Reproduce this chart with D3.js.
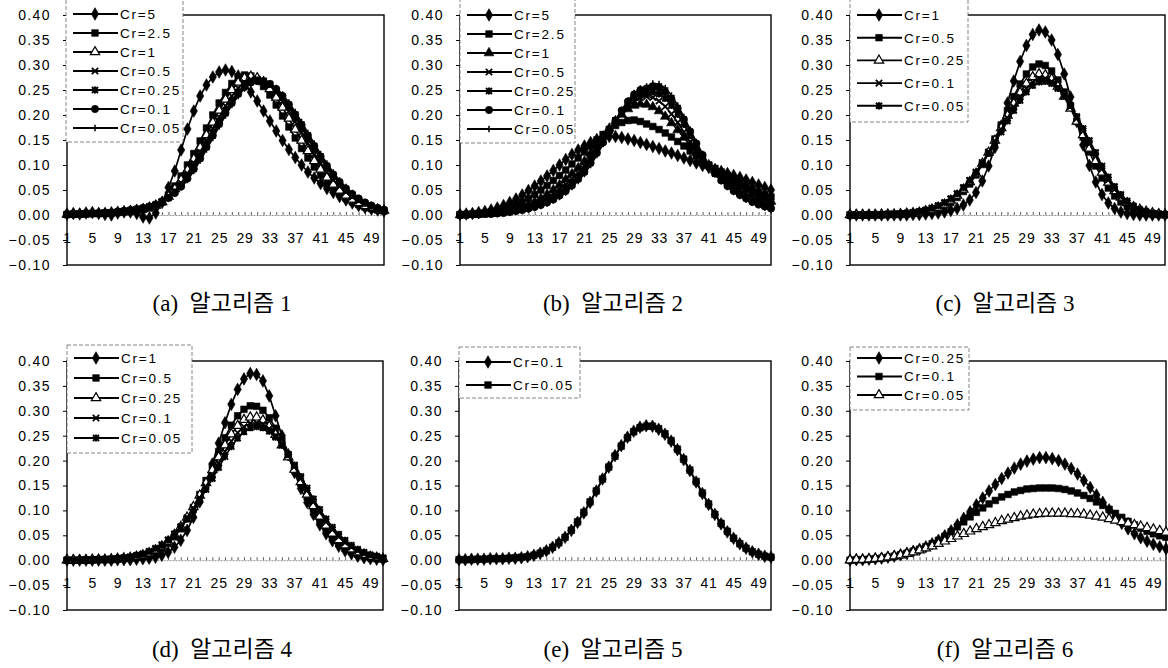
<!DOCTYPE html>
<html><head><meta charset="utf-8">
<script src="https://cdn.jsdelivr.net/npm/d3@7"></script>
<style>
html,body{margin:0;padding:0;background:#fff;}
svg{display:block;}
</style></head><body>
<svg id="chart" width="1168" height="668"></svg>
<script>
const categories = [1,2,3,4,5,6,7,8,9,10,11,12,13,14,15,16,17,18,19,20,21,22,23,24,25,26,27,28,29,30,31,32,33,34,35,36,37,38,39,40,41,42,43,44,45,46,47,48,49,50,51];
const xTickLabels = [1,5,9,13,17,21,25,29,33,37,41,45,49];
const yTicks = [-0.10,-0.05,0.00,0.05,0.10,0.15,0.20,0.25,0.30,0.35,0.40];

// (a) 알고리즘 1
const a_cr5 = [0.002,0.003,0.002,0.004,0.005,0.003,0.001,0.000,0.004,0.006,
0.006,0.003,-0.004,-0.006,0.004,0.025,0.055,0.088,0.130,0.172,
0.208,0.238,0.260,0.276,0.286,0.290,0.287,0.278,0.264,0.246,
0.228,0.208,0.188,0.168,0.149,0.131,0.115,0.100,0.086,0.074,
0.063,0.053,0.045,0.037,0.030,0.024,0.019,0.015,0.012,0.010,0.008];
const a_cr2_5 = [0.001,0.002,0.002,0.003,0.003,0.003,0.004,0.004,0.005,0.006,
0.007,0.009,0.011,0.014,0.018,0.026,0.040,0.058,0.078,0.100,
0.123,0.148,0.174,0.200,0.224,0.245,0.263,0.275,0.280,0.278,
0.270,0.257,0.240,0.220,0.198,0.176,0.154,0.133,0.114,0.096,
0.080,0.066,0.054,0.043,0.034,0.027,0.021,0.016,0.013,0.010,0.008];
const a_cr1 = [0.001,0.001,0.002,0.002,0.003,0.003,0.004,0.005,0.006,0.007,
0.008,0.010,0.012,0.015,0.019,0.026,0.037,0.052,0.070,0.090,
0.112,0.135,0.160,0.185,0.209,0.231,0.250,0.265,0.274,0.277,
0.274,0.266,0.252,0.235,0.215,0.193,0.171,0.149,0.128,0.108,
0.091,0.075,0.061,0.049,0.039,0.031,0.024,0.018,0.014,0.011,0.009];
const a_cr0_5 = [0.001,0.001,0.002,0.002,0.003,0.003,0.004,0.005,0.006,0.007,
0.009,0.011,0.013,0.016,0.020,0.026,0.035,0.048,0.064,0.083,
0.104,0.126,0.149,0.173,0.196,0.218,0.238,0.254,0.265,0.271,
0.272,0.268,0.259,0.245,0.228,0.208,0.187,0.165,0.143,0.122,
0.103,0.086,0.070,0.057,0.046,0.036,0.028,0.022,0.016,0.012,0.009];
const a_cr0_25 = [0.001,0.001,0.002,0.002,0.003,0.003,0.004,0.005,0.006,0.008,
0.009,0.011,0.014,0.017,0.021,0.027,0.035,0.046,0.060,0.077,
0.097,0.118,0.141,0.164,0.187,0.209,0.229,0.246,0.259,0.267,
0.270,0.268,0.262,0.250,0.235,0.216,0.196,0.175,0.153,0.132,
0.112,0.094,0.077,0.063,0.050,0.040,0.031,0.024,0.018,0.013,0.010];
const a_cr0_1 = [0.001,0.001,0.002,0.002,0.003,0.004,0.004,0.005,0.007,0.008,
0.010,0.012,0.014,0.017,0.021,0.027,0.034,0.044,0.057,0.073,
0.092,0.113,0.136,0.159,0.182,0.204,0.224,0.242,0.256,0.265,
0.268,0.267,0.262,0.252,0.238,0.221,0.201,0.180,0.159,0.138,
0.117,0.098,0.081,0.066,0.053,0.042,0.033,0.025,0.019,0.014,0.010];
const a_cr0_05 = [0.001,0.001,0.002,0.002,0.003,0.004,0.005,0.006,0.007,0.008,
0.010,0.012,0.015,0.018,0.022,0.027,0.034,0.043,0.055,0.070,
0.088,0.109,0.131,0.154,0.177,0.199,0.220,0.238,0.253,0.263,
0.267,0.267,0.263,0.254,0.241,0.225,0.206,0.186,0.164,0.143,
0.122,0.103,0.085,0.069,0.056,0.044,0.034,0.026,0.020,0.015,0.011];

// (b) 알고리즘 2
const b_cr5 = [0.001,0.002,0.003,0.005,0.007,0.010,0.014,0.019,0.025,0.032,
0.040,0.049,0.058,0.068,0.078,0.089,0.100,0.111,0.121,0.130,
0.138,0.145,0.151,0.155,0.157,0.157,0.155,0.152,0.149,0.145,
0.141,0.137,0.133,0.128,0.124,0.119,0.114,0.109,0.104,0.099,
0.095,0.091,0.087,0.083,0.079,0.075,0.070,0.065,0.060,0.055,0.050];
const b_cr2_5 = [0.001,0.001,0.002,0.003,0.004,0.006,0.008,0.011,0.015,0.020,
0.026,0.033,0.041,0.050,0.059,0.069,0.079,0.090,0.102,0.114,
0.126,0.138,0.150,0.161,0.171,0.179,0.185,0.189,0.190,0.187,
0.182,0.177,0.171,0.164,0.156,0.147,0.138,0.128,0.118,0.109,
0.100,0.093,0.086,0.079,0.072,0.065,0.058,0.052,0.046,0.041,0.036];
const b_cr1 = [0.000,0.001,0.001,0.002,0.003,0.004,0.005,0.007,0.009,0.012,
0.015,0.020,0.026,0.033,0.041,0.050,0.060,0.071,0.082,0.094,
0.107,0.123,0.140,0.157,0.173,0.188,0.201,0.212,0.219,0.222,
0.221,0.216,0.208,0.197,0.184,0.170,0.155,0.139,0.124,0.111,
0.100,0.090,0.081,0.072,0.064,0.057,0.050,0.043,0.037,0.032,0.027];
const b_cr0_5 = [0.000,0.001,0.001,0.002,0.002,0.003,0.004,0.006,0.008,0.010,
0.012,0.016,0.021,0.027,0.034,0.042,0.051,0.061,0.072,0.084,
0.098,0.115,0.133,0.152,0.171,0.189,0.205,0.219,0.229,0.235,
0.237,0.235,0.228,0.217,0.202,0.185,0.166,0.146,0.127,0.112,
0.100,0.087,0.076,0.066,0.057,0.049,0.042,0.035,0.029,0.024,0.020];
const b_cr0_25 = [0.000,0.000,0.001,0.001,0.002,0.003,0.004,0.005,0.007,0.009,
0.011,0.014,0.018,0.023,0.029,0.036,0.045,0.055,0.066,0.078,
0.092,0.110,0.129,0.149,0.169,0.189,0.207,0.222,0.234,0.241,
0.244,0.246,0.242,0.233,0.219,0.201,0.181,0.159,0.137,0.116,
0.097,0.083,0.071,0.060,0.051,0.043,0.036,0.029,0.024,0.019,0.016];
const b_cr0_1 = [0.000,0.000,0.001,0.001,0.002,0.002,0.003,0.004,0.006,0.008,
0.010,0.013,0.016,0.020,0.025,0.031,0.039,0.048,0.059,0.072,
0.086,0.104,0.124,0.145,0.167,0.189,0.209,0.227,0.241,0.250,
0.253,0.257,0.255,0.246,0.232,0.213,0.191,0.167,0.143,0.120,
0.099,0.083,0.069,0.058,0.048,0.040,0.033,0.026,0.021,0.017,0.013];
const b_cr0_05 = [0.000,0.000,0.001,0.001,0.001,0.002,0.003,0.004,0.005,0.007,
0.009,0.011,0.014,0.018,0.023,0.029,0.036,0.045,0.056,0.068,
0.082,0.100,0.120,0.142,0.165,0.188,0.210,0.229,0.244,0.253,
0.257,0.263,0.262,0.254,0.239,0.219,0.196,0.171,0.146,0.122,
0.100,0.082,0.068,0.056,0.046,0.038,0.031,0.025,0.020,0.015,0.012];

// (c) 알고리즘 3
const c_cr1 = [0.000,0.000,0.000,0.000,0.000,0.000,0.000,0.000,0.000,0.000,
0.001,0.001,0.002,0.003,0.004,0.006,0.009,0.013,0.020,0.030,
0.045,0.068,0.098,0.135,0.178,0.224,0.268,0.307,0.339,0.361,
0.370,0.366,0.350,0.321,0.282,0.236,0.187,0.140,0.099,0.066,
0.041,0.024,0.013,0.006,0.003,0.001,0.000,0.000,0.000,0.000,0.000];
const c_cr0_5 = [0.000,0.000,0.000,0.000,0.000,0.000,0.001,0.001,0.001,0.002,
0.003,0.004,0.006,0.009,0.013,0.018,0.025,0.035,0.047,0.062,
0.080,0.101,0.125,0.152,0.180,0.209,0.237,0.262,0.282,0.296,
0.302,0.299,0.288,0.270,0.246,0.218,0.187,0.156,0.126,0.098,
0.074,0.054,0.038,0.026,0.017,0.010,0.006,0.003,0.002,0.001,0.000];
const c_cr0_25 = [0.000,0.000,0.000,0.000,0.000,0.001,0.001,0.001,0.002,0.003,
0.004,0.005,0.008,0.011,0.015,0.021,0.029,0.039,0.051,0.066,
0.083,0.103,0.125,0.149,0.174,0.199,0.223,0.245,0.263,0.276,
0.282,0.280,0.272,0.257,0.237,0.213,0.187,0.160,0.133,0.108,
0.085,0.065,0.048,0.035,0.024,0.016,0.011,0.007,0.004,0.002,0.001];
const c_cr0_1 = [0.000,0.000,0.000,0.000,0.001,0.001,0.001,0.002,0.002,0.003,
0.005,0.007,0.009,0.013,0.018,0.024,0.032,0.042,0.054,0.069,
0.086,0.105,0.126,0.148,0.171,0.194,0.216,0.236,0.253,0.266,
0.273,0.273,0.267,0.255,0.238,0.217,0.193,0.168,0.143,0.118,
0.092,0.070,0.051,0.036,0.024,0.015,0.009,0.005,0.003,0.002,0.001];
const c_cr0_05 = [0.000,0.000,0.000,0.001,0.001,0.001,0.002,0.002,0.003,0.004,
0.005,0.007,0.010,0.014,0.019,0.025,0.033,0.043,0.055,0.069,
0.085,0.103,0.123,0.144,0.166,0.188,0.209,0.229,0.246,0.259,
0.266,0.267,0.263,0.253,0.238,0.219,0.197,0.173,0.149,0.125,
0.098,0.076,0.057,0.041,0.028,0.018,0.011,0.007,0.004,0.002,0.001];

// (d) 알고리즘 4
const d_cr1 = [0.000,0.000,0.000,0.000,0.000,0.000,0.000,0.000,0.001,0.001,
0.001,0.002,0.003,0.004,0.006,0.010,0.016,0.026,0.040,0.060,
0.086,0.117,0.153,0.193,0.235,0.276,0.313,0.343,0.364,0.375,
0.373,0.360,0.330,0.290,0.250,0.212,0.176,0.144,0.116,0.092,
0.071,0.053,0.039,0.028,0.019,0.013,0.008,0.005,0.003,0.002,0.001];
const d_cr0_5 = [0.000,0.000,0.000,0.000,0.000,0.001,0.001,0.001,0.002,0.003,
0.004,0.006,0.008,0.012,0.017,0.024,0.034,0.047,0.063,0.083,
0.106,0.132,0.160,0.189,0.218,0.246,0.271,0.290,0.303,0.310,
0.309,0.301,0.286,0.265,0.240,0.212,0.183,0.154,0.127,0.102,
0.080,0.061,0.046,0.034,0.024,0.017,0.012,0.008,0.005,0.003,0.002];
const d_cr0_25 = [0.000,0.000,0.000,0.000,0.001,0.001,0.001,0.002,0.003,0.004,
0.005,0.007,0.010,0.014,0.020,0.028,0.038,0.051,0.067,0.086,
0.107,0.130,0.155,0.181,0.207,0.231,0.253,0.270,0.282,0.287,
0.287,0.281,0.269,0.252,0.231,0.207,0.182,0.157,0.132,0.109,
0.088,0.070,0.054,0.041,0.030,0.022,0.016,0.011,0.007,0.005,0.003];
const d_cr0_1 = [0.000,0.000,0.000,0.001,0.001,0.001,0.002,0.002,0.003,0.005,
0.006,0.009,0.012,0.016,0.022,0.030,0.040,0.052,0.067,0.085,
0.104,0.125,0.148,0.171,0.195,0.218,0.239,0.256,0.268,0.275,
0.276,0.273,0.264,0.250,0.232,0.211,0.188,0.164,0.140,0.117,
0.096,0.077,0.061,0.047,0.035,0.026,0.019,0.013,0.009,0.006,0.004];
const d_cr0_05 = [0.000,0.000,0.001,0.001,0.001,0.002,0.002,0.003,0.004,0.005,
0.007,0.010,0.013,0.018,0.024,0.031,0.041,0.053,0.067,0.083,
0.101,0.121,0.142,0.164,0.186,0.208,0.228,0.245,0.258,0.266,
0.268,0.266,0.259,0.247,0.231,0.212,0.191,0.168,0.145,0.123,
0.102,0.083,0.066,0.052,0.040,0.030,0.022,0.016,0.011,0.008,0.005];

// (e) 알고리즘 5
const e_cr0_1 = [0.001,0.001,0.002,0.002,0.002,0.003,0.003,0.003,0.004,0.004,
0.005,0.007,0.010,0.014,0.019,0.026,0.035,0.046,0.060,0.076,
0.095,0.116,0.139,0.163,0.187,0.210,0.230,0.247,0.259,0.267,
0.270,0.269,0.263,0.253,0.239,0.222,0.202,0.180,0.157,0.134,
0.112,0.092,0.073,0.057,0.044,0.033,0.024,0.017,0.012,0.008,0.006];
const e_cr0_05 = [0.001,0.001,0.001,0.002,0.002,0.003,0.003,0.003,0.004,0.005,
0.006,0.007,0.010,0.014,0.019,0.026,0.035,0.046,0.060,0.077,
0.096,0.117,0.139,0.163,0.187,0.209,0.229,0.246,0.258,0.266,
0.269,0.269,0.264,0.254,0.240,0.223,0.203,0.181,0.158,0.135,
0.113,0.092,0.074,0.058,0.044,0.033,0.024,0.017,0.012,0.008,0.006];

// (f) 알고리즘 6
const f_cr0_25 = [0.000,0.001,0.001,0.002,0.003,0.004,0.006,0.008,0.011,0.014,
0.018,0.022,0.027,0.033,0.040,0.049,0.059,0.071,0.084,0.097,
0.111,0.125,0.139,0.152,0.164,0.175,0.185,0.193,0.199,0.203,
0.206,0.206,0.204,0.200,0.193,0.184,0.173,0.160,0.146,0.131,
0.116,0.101,0.087,0.074,0.063,0.053,0.045,0.038,0.032,0.027,0.023];
const f_cr0_1 = [0.000,0.001,0.001,0.002,0.003,0.004,0.006,0.008,0.011,0.014,
0.018,0.022,0.027,0.033,0.040,0.048,0.057,0.067,0.077,0.087,
0.096,0.105,0.113,0.120,0.127,0.132,0.137,0.140,0.143,0.144,
0.145,0.145,0.145,0.144,0.142,0.139,0.135,0.130,0.124,0.117,
0.110,0.102,0.094,0.086,0.078,0.071,0.064,0.058,0.053,0.049,0.046];
const f_cr0_05 = [0.000,0.001,0.001,0.002,0.003,0.004,0.006,0.008,0.010,0.013,
0.016,0.020,0.024,0.028,0.033,0.038,0.043,0.048,0.053,0.058,
0.063,0.067,0.071,0.075,0.079,0.082,0.085,0.088,0.090,0.092,
0.093,0.094,0.094,0.094,0.094,0.093,0.093,0.092,0.090,0.088,
0.086,0.083,0.080,0.077,0.074,0.071,0.068,0.065,0.062,0.059,0.056];

const panels = [
  {key:'a', caption:'(a)  알고리즘 1', series:[
    {name:'Cr=5', values:a_cr5, marker:'diamond'},
    {name:'Cr=2.5', values:a_cr2_5, marker:'square'},
    {name:'Cr=1', values:a_cr1, marker:'triangleOpen'},
    {name:'Cr=0.5', values:a_cr0_5, marker:'x'},
    {name:'Cr=0.25', values:a_cr0_25, marker:'star'},
    {name:'Cr=0.1', values:a_cr0_1, marker:'circle'},
    {name:'Cr=0.05', values:a_cr0_05, marker:'plus'}]},
  {key:'b', caption:'(b)  알고리즘 2', series:[
    {name:'Cr=5', values:b_cr5, marker:'diamond'},
    {name:'Cr=2.5', values:b_cr2_5, marker:'square'},
    {name:'Cr=1', values:b_cr1, marker:'triangle'},
    {name:'Cr=0.5', values:b_cr0_5, marker:'x'},
    {name:'Cr=0.25', values:b_cr0_25, marker:'star'},
    {name:'Cr=0.1', values:b_cr0_1, marker:'circle'},
    {name:'Cr=0.05', values:b_cr0_05, marker:'plus'}]},
  {key:'c', caption:'(c)  알고리즘 3', series:[
    {name:'Cr=1', values:c_cr1, marker:'diamond'},
    {name:'Cr=0.5', values:c_cr0_5, marker:'square'},
    {name:'Cr=0.25', values:c_cr0_25, marker:'triangleOpen'},
    {name:'Cr=0.1', values:c_cr0_1, marker:'x'},
    {name:'Cr=0.05', values:c_cr0_05, marker:'star'}]},
  {key:'d', caption:'(d)  알고리즘 4', series:[
    {name:'Cr=1', values:d_cr1, marker:'diamond'},
    {name:'Cr=0.5', values:d_cr0_5, marker:'square'},
    {name:'Cr=0.25', values:d_cr0_25, marker:'triangleOpen'},
    {name:'Cr=0.1', values:d_cr0_1, marker:'x'},
    {name:'Cr=0.05', values:d_cr0_05, marker:'star'}]},
  {key:'e', caption:'(e)  알고리즘 5', series:[
    {name:'Cr=0.1', values:e_cr0_1, marker:'diamond'},
    {name:'Cr=0.05', values:e_cr0_05, marker:'square'}]},
  {key:'f', caption:'(f)  알고리즘 6', series:[
    {name:'Cr=0.25', values:f_cr0_25, marker:'diamond'},
    {name:'Cr=0.1', values:f_cr0_1, marker:'square'},
    {name:'Cr=0.05', values:f_cr0_05, marker:'triangleOpen'}]}
];

// layout (positions only)
const layout = {
  a:{x0:67,x1:384,y0:15,y1:265, lg:{x0:66,x1:183,y0:-2,y1:142,row0:14,step:19}, capX:222, capY:311},
  b:{x0:460,x1:771,y0:15,y1:265, lg:{x0:460,x1:575,y0:-2,y1:143,row0:15,step:19}, capX:613, capY:311},
  c:{x0:850,x1:1165,y0:15,y1:265, lg:{x0:850,x1:968,y0:-2,y1:122,row0:15,step:22.7}, capX:1005, capY:311},
  d:{x0:67,x1:383,y0:361,y1:610, lg:{x0:67,x1:192,y0:345,y1:453,row0:358,step:20}, capX:222, capY:657},
  e:{x0:459,x1:771,y0:361,y1:610, lg:{x0:459,x1:580,y0:347,y1:398,row0:362,step:23}, capX:613, capY:657},
  f:{x0:850,x1:1166,y0:361,y1:610, lg:{x0:850,x1:969,y0:347,y1:410,row0:358,step:18.5}, capX:1005, capY:657}
};

const symX = {draw(ctx, size){const r=Math.sqrt(size)/2; ctx.moveTo(-r,-r);ctx.lineTo(r,r);ctx.moveTo(-r,r);ctx.lineTo(r,-r);}};
const symPlus = {draw(ctx, size){const r=Math.sqrt(size)/2; ctx.moveTo(-r,0);ctx.lineTo(r,0);ctx.moveTo(0,-r);ctx.lineTo(0,r);}};
const symStar = {draw(ctx, size){const r=Math.sqrt(size)/2; ctx.moveTo(-r,-r);ctx.lineTo(r,r);ctx.moveTo(-r,r);ctx.lineTo(r,-r);ctx.moveTo(0,-r*1.2);ctx.lineTo(0,r*1.2);ctx.moveTo(-r,0);ctx.lineTo(r,0);}};

const markerStyles = {
  diamond:{type:d3.symbolDiamond, size:46, fill:'#000', stroke:'#000', sw:0.6},
  square:{type:d3.symbolSquare, size:44, fill:'#000', stroke:'#000', sw:0.6},
  triangle:{type:d3.symbolTriangle, size:42, fill:'#000', stroke:'#000', sw:0.6},
  triangleOpen:{type:d3.symbolTriangle, size:38, fill:'#fff', stroke:'#000', sw:1.2},
  x:{type:symX, size:40, fill:'none', stroke:'#000', sw:1.8},
  star:{type:symStar, size:36, fill:'none', stroke:'#000', sw:2},
  circle:{type:d3.symbolCircle, size:42, fill:'#000', stroke:'#000', sw:0.6},
  plus:{type:symPlus, size:40, fill:'none', stroke:'#000', sw:1.5}
};

const svg = d3.select('#chart');
const sansFont = '"Liberation Sans", Arial, Helvetica, sans-serif';
const fmt = d3.format('.2f');

function drawMarker(sel, m) {
  const st = markerStyles[m];
  sel.attr('d', d3.symbol(st.type, st.size)())
     .attr('fill', st.fill)
     .attr('stroke', st.stroke)
     .attr('stroke-width', st.sw);
}

panels.forEach(p => {
  const L = layout[p.key];
  const g = svg.append('g').attr('class', 'panel-' + p.key);
  const x = d3.scalePoint().domain(categories).range([L.x0, L.x1]);
  const y = d3.scaleLinear().domain([yTicks[0], yTicks[yTicks.length-1]]).range([L.y1, L.y0]);

  // frame
  g.append('rect').attr('x', L.x0).attr('y', L.y0)
    .attr('width', L.x1 - L.x0).attr('height', L.y1 - L.y0)
    .attr('fill', 'none').attr('stroke', '#000').attr('stroke-width', 1.4);

  // y axis
  const ya = g.append('g').attr('transform', `translate(${L.x0},0)`)
    .call(d3.axisLeft(y).tickValues(yTicks).tickFormat(fmt).tickSize(4).tickPadding(12));
  ya.select('.domain').remove();
  ya.selectAll('.tick line').attr('stroke', '#000').attr('stroke-width', 1);
  ya.selectAll('.tick text').attr('font-family', sansFont).attr('font-size', 14)
    .attr('letter-spacing', '1.4px').attr('fill', '#000');

  // x axis along zero line
  const xa = g.append('g').attr('transform', `translate(0,${y(0)})`)
    .call(d3.axisBottom(x).tickValues(categories).tickSizeInner(-3).tickSizeOuter(0).tickPadding(18)
      .tickFormat(d => xTickLabels.includes(d) ? String(d) : ''));
  xa.select('.domain').attr('stroke', '#777').attr('stroke-width', 0.8).attr('stroke-dasharray', '2,1');
  xa.selectAll('.tick line').attr('stroke', '#333').attr('stroke-width', 0.8);
  xa.selectAll('.tick text').attr('font-family', sansFont).attr('font-size', 14)
    .attr('letter-spacing', '0.8px').attr('fill', '#000');

  // series
  const line = d3.line().x((d, i) => x(categories[i])).y(d => y(d));
  p.series.forEach(s => {
    g.append('path').datum(s.values).attr('d', line)
      .attr('fill', 'none').attr('stroke', '#000').attr('stroke-width', 1.7);
    g.append('g').selectAll('path').data(s.values).join('path')
      .attr('transform', (d, i) => `translate(${x(categories[i])},${y(d)})`)
      .call(drawMarker, s.marker);
  });

  // legend
  const lg = L.lg;
  g.append('rect').attr('x', lg.x0).attr('y', lg.y0)
    .attr('width', lg.x1 - lg.x0).attr('height', lg.y1 - lg.y0)
    .attr('fill', '#fff').attr('stroke', '#666').attr('stroke-width', 0.8)
    .attr('stroke-dasharray', '4,2');
  p.series.forEach((s, k) => {
    const ry = lg.row0 + k * lg.step;
    g.append('line').attr('x1', lg.x0 + 7).attr('x2', lg.x0 + 52)
      .attr('y1', ry).attr('y2', ry).attr('stroke', '#000').attr('stroke-width', 1.9);
    g.append('path').attr('transform', `translate(${lg.x0 + 29},${ry})`).call(drawMarker, s.marker);
    g.append('text').attr('x', lg.x0 + 54).attr('y', ry + 4.8)
      .attr('font-family', sansFont).attr('font-size', 13.5).attr('letter-spacing', '1.8px')
      .attr('fill', '#000').text(s.name);
  });

  // caption
  g.append('text').attr('x', L.capX).attr('y', L.capY).attr('text-anchor', 'middle')
    .attr('font-family', '"Liberation Serif", "Times New Roman", "Noto Sans CJK KR", serif')
    .attr('font-size', 23).attr('fill', '#000').style('white-space', 'pre')
    .text(p.caption);
});
</script>
</body></html>
